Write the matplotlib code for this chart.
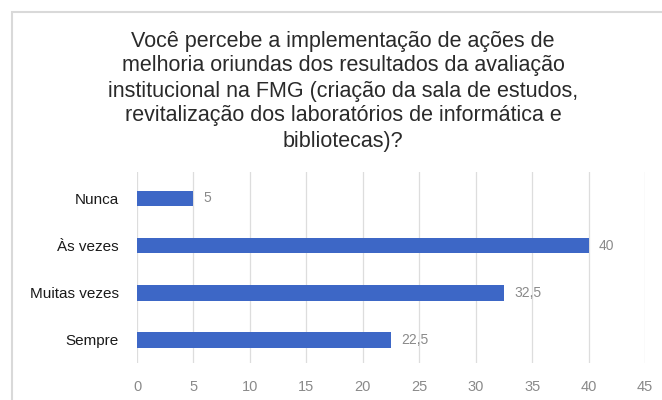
import matplotlib.pyplot as plt
from matplotlib.patches import Rectangle

plt.rcParams['font.family'] = ['Liberation Sans', 'DejaVu Sans']

categories = ["Nunca", "Às vezes", "Muitas vezes", "Sempre"]
values = [5, 40, 32.5, 22.5]
value_labels = ["5", "40", "32,5", "22,5"]
x_ticks = [0, 5, 10, 15, 20, 25, 30, 35, 40, 45]

title = ("Você percebe a implementação de ações de\n"
         "melhoria oriundas dos resultados da avaliação\n"
         "institucional na FMG (criação da sala de estudos,\n"
         "revitalização dos laboratórios de informática e\n"
         "bibliotecas)?")

fig = plt.figure(figsize=(6.62, 4.0), dpi=100)
# light frame around the chart area
fig.patches.append(Rectangle((12 / 662, -0.1), 1.2, 1 - 12 / 400 + 0.1,
                             transform=fig.transFigure, fill=False,
                             edgecolor="#d9d9d9", linewidth=1.5))

ax = fig.add_axes([137 / 662, 1 - 363 / 400, (645 - 137) / 662, (363 - 172) / 400])

pos = list(range(len(categories)))
ax.barh(pos, values, height=0.33, color="#3d67c6", zorder=3)
for p, v, lab in zip(pos, values, value_labels):
    ax.text(v + 0.9, p, lab, va="center", ha="left", fontsize=10, color="#8a8a8a")

ax.set_yticks(pos)
ax.set_yticklabels(categories, fontsize=11, color="#1a1a1a")
ax.set_ylim(3.49, -0.56)
ax.set_xlim(0, 45)
ax.set_xticks(x_ticks)
ax.set_xticklabels([str(t) for t in x_ticks], fontsize=10.5, color="#8a8a8a")
ax.tick_params(axis="both", length=0)
ax.tick_params(axis="x", pad=12)
ax.tick_params(axis="y", pad=13)
ax.grid(axis="x", color="#dddddd", linewidth=0.9, zorder=0)
for s in ax.spines.values():
    s.set_visible(False)

fig.text(343 / 662, 1 - 91 / 400, title, ha="center", va="center", fontsize=15.5,
         color="#2a2a2a", linespacing=1.25)

fig.savefig("out.png", dpi=100)
